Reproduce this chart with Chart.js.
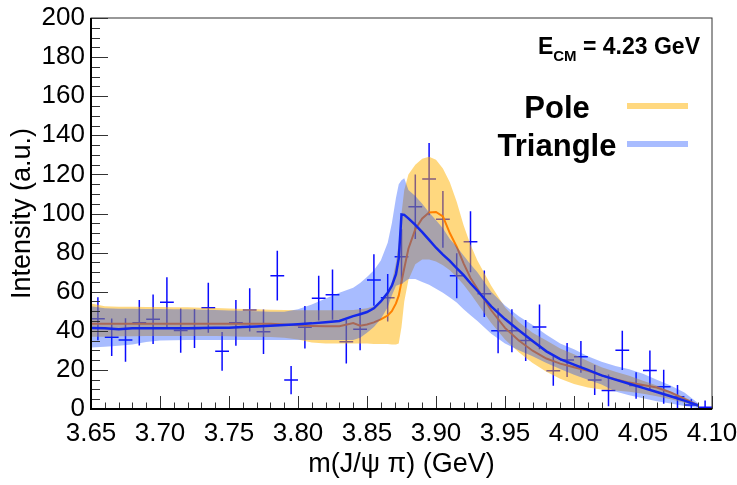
<!DOCTYPE html>
<html lang="en">
<head>
    <meta charset="UTF-8">
    <title>m(J/psi pi) intensity</title>
    <script src="https://cdn.jsdelivr.net/npm/chart.js"></script>
    <style>
        body { margin: 0; background: #fff; }
        #wrap { position: relative; width: 737px; height: 485px; font-family: "Liberation Sans", Arial, sans-serif; }
        .lbl { position: absolute; font-weight: bold; color: #000; white-space: nowrap; }
        .lbl .sub { font-size: 15px; vertical-align: -7px; line-height: 0; }
        .swatch { position: absolute; width: 61px; height: 6px; }
    </style>
</head>
<body>
<div id="wrap">
    <canvas id="chart" width="737" height="485"></canvas>
    <div class="lbl" style="right:37px; top:35px; font-size:23px; line-height:23px;">E<span class="sub">CM</span> = 4.23 GeV</div>
</div>
<script>
    // data histogram (bin centres, contents, errors)
    const binCenters = [3.655, 3.665, 3.675, 3.685, 3.695, 3.705, 3.715, 3.725, 3.735, 3.745,
        3.755, 3.765, 3.775, 3.785, 3.795, 3.805, 3.815, 3.825, 3.835, 3.845,
        3.855, 3.865, 3.875, 3.885, 3.895, 3.905, 3.915, 3.925, 3.935, 3.945,
        3.955, 3.965, 3.975, 3.985, 3.995, 4.005, 4.015, 4.025, 4.035, 4.045,
        4.055, 4.065, 4.075, 4.085, 4.095];
    const counts = [46.2, 36.7, 35.3, 44.1, 45.9, 54.6, 40.1, 41.2, 51.8, 29.5,
        44.1, 50.7, 39.5, 68.2, 14.8, 41.8, 56.7, 58.5, 34.4, 40.8,
        66.0, 56.9, 77.9, 103.5, 117.6, 97.0, 68.2, 85.6, 59.0, 40.0,
        40.0, 35.0, 42.0, 19.6, 25.1, 26.7, 14.8, 9.5, 30.0, 12.0,
        19.7, 11.4, 6.3, 2.0, 0.9];
    const errors = [11.0, 9.6, 11.1, 11.6, 12.7, 12.8, 11.3, 10.0, 12.8, 9.9,
        11.7, 11.1, 11.4, 12.7, 7.2, 10.9, 11.4, 12.8, 11.1, 10.8,
        13.2, 12.1, 14.0, 16.5, 18.5, 14.5, 11.5, 15.6, 11.9, 11.5,
        11.0, 10.5, 11.5, 7.7, 8.7, 8.1, 7.7, 8.1, 10.0, 6.8,
        10.2, 8.7, 6.0, 3.0, 3.4];
    const binWidth = 0.01;

    // model curves
    const massGrid = [3.650, 3.660, 3.670, 3.680, 3.690, 3.700, 3.710, 3.720, 3.730, 3.740,
        3.750, 3.760, 3.770, 3.780, 3.790, 3.800, 3.810, 3.820, 3.830, 3.840,
        3.845, 3.850, 3.855, 3.860, 3.865, 3.868, 3.871, 3.873, 3.875, 3.877,
        3.880, 3.885, 3.890, 3.895, 3.900, 3.905, 3.910, 3.915, 3.920, 3.925,
        3.930, 3.940, 3.950, 3.960, 3.970, 3.980, 3.990, 4.000, 4.010, 4.020,
        4.030, 4.040, 4.050, 4.060, 4.070, 4.080, 4.090];
    const poleCentral = [43.6, 43.6, 43.6, 43.6, 43.6, 43.6, 43.6, 43.6, 43.6, 43.6,
        43.6, 43.6, 43.6, 43.6, 43.2, 42.8, 42.5, 42.3, 42.3, 44.0,
        42.6, 43.2, 44.3, 45.8, 47.8, 50.0, 54.0, 58.0, 65.0, 72.0,
        82.0, 92.0, 97.5, 100.5, 100.8, 98.5, 90.0, 83.0, 74.5, 67.0,
        61.5, 50.5, 41.5, 35.0, 29.8, 25.8, 23.2, 21.4, 19.5, 17.2,
        15.2, 13.5, 12.3, 11.0, 8.5, 5.2, 1.8];
    const poleHigh = [54.0, 52.5, 52.3, 52.3, 52.2, 52.2, 52.0, 52.0, 51.8, 51.6,
        51.4, 51.2, 51.0, 50.8, 50.6, 50.5, 50.5, 50.5, 50.5, 50.7,
        51.0, 51.5, 52.5, 55.0, 60.0, 65.0, 75.0, 85.0, 100.0, 112.0,
        120.0, 125.0, 128.0, 129.0, 127.5, 123.0, 116.0, 106.0, 94.0, 84.0,
        76.0, 63.0, 52.0, 44.5, 39.0, 35.0, 31.0, 28.0, 24.5, 21.3,
        19.0, 17.0, 14.5, 12.0, 9.0, 6.0, 2.5];
    const poleLow = [37.0, 37.0, 37.2, 37.2, 37.3, 37.3, 37.3, 37.3, 37.3, 37.3,
        37.2, 37.0, 37.0, 36.8, 36.5, 35.5, 34.0, 33.5, 33.5, 33.5,
        33.5, 33.5, 33.3, 33.2, 33.2, 33.0, 33.0, 33.5, 42.0, 55.0,
        66.0, 74.0, 76.5, 76.5, 75.5, 73.5, 71.0, 67.5, 63.5, 59.0,
        54.0, 44.0, 35.5, 29.0, 23.5, 19.0, 15.5, 12.8, 11.0, 10.0,
        9.5, 8.8, 7.8, 6.5, 5.0, 3.2, 1.2];
    const triCentral = [41.4, 41.3, 40.8, 41.3, 41.3, 41.3, 41.3, 41.3, 41.4, 41.5,
        41.6, 41.9, 42.2, 42.6, 43.0, 43.4, 43.8, 44.4, 45.0, 47.5,
        48.5, 49.6, 51.5, 55.0, 59.5, 63.0, 69.0, 77.0, 99.5, 99.3,
        97.5, 94.2, 90.5, 86.5, 82.5, 79.0, 75.8, 72.0, 68.5, 64.3,
        60.5, 52.5, 46.0, 40.3, 34.8, 29.5, 25.5, 22.7, 20.0, 17.2,
        15.0, 12.9, 10.8, 8.7, 6.5, 4.3, 1.8];
    const triHigh = [52.5, 51.5, 51.3, 51.3, 51.2, 51.2, 51.0, 51.0, 50.8, 50.6,
        50.4, 50.2, 50.0, 49.8, 49.8, 51.0, 53.5, 56.5, 59.5, 62.0,
        64.5, 67.5, 71.0, 76.0, 85.0, 95.0, 108.0, 115.0, 117.0, 118.0,
        112.0, 109.0, 105.0, 100.5, 96.5, 92.5, 87.0, 83.0, 78.5, 74.0,
        70.0, 60.0, 53.0, 47.5, 43.0, 38.0, 33.5, 30.5, 27.0, 24.2,
        22.0, 20.3, 18.0, 15.0, 12.0, 8.5, 3.0];
    const triLow = [31.5, 31.8, 32.3, 33.0, 34.3, 35.0, 35.2, 35.3, 35.3, 35.3,
        35.3, 35.3, 35.3, 35.3, 35.3, 35.3, 35.3, 35.3, 35.3, 35.3,
        36.5, 39.0, 42.0, 46.0, 52.0, 58.0, 63.0, 63.5, 64.0, 65.0,
        66.5, 66.5, 65.0, 63.5, 61.5, 59.5, 57.0, 54.5, 51.0, 48.0,
        45.0, 38.5, 33.5, 30.0, 27.0, 23.5, 20.5, 17.5, 15.0, 12.5,
        9.0, 7.0, 5.5, 4.0, 2.8, 1.5, 0.5];

    const seriesNames = ['Pole', 'Triangle'];
    const bandColors = ['rgba(255, 178, 0, 0.5)', 'rgba(0, 60, 255, 0.34)'];
    const lineColors = ['rgb(255, 128, 0)', 'rgb(20, 40, 235)'];

    Chart.defaults.font.family = "'Liberation Sans', Arial, sans-serif";
    Chart.defaults.color = '#000';

    const toPoints = (ys) => massGrid.map((m, i) => ({ x: m, y: ys[i] }));

    // error crosses as one broken line
    const crosses = [];
    binCenters.forEach((c, i) => {
        crosses.push({ x: c, y: counts[i] - errors[i] }, { x: c, y: counts[i] + errors[i] }, { x: c, y: null });
        crosses.push({ x: c - binWidth / 2, y: counts[i] }, { x: c + binWidth / 2, y: counts[i] }, { x: c, y: null });
    });

    // ROOT-like frame with inward ticks
    const rootFrame = {
        id: 'rootFrame',
        afterDraw(chart) {
            const { ctx, chartArea: a, scales: { x, y } } = chart;
            ctx.save();
            ctx.strokeStyle = '#333';
            ctx.lineWidth = 1;
            ctx.strokeRect(a.left, a.top, a.right - a.left, a.bottom - a.top);
            ctx.beginPath();
            for (let k = 0; k <= 45; k++) {
                const px = Math.round(x.getPixelForValue(3.65 + k * 0.01)) + 0.5;
                ctx.moveTo(px, a.bottom);
                ctx.lineTo(px, a.bottom - (k % 5 === 0 ? 13 : 6.5));
            }
            for (let k = 0; k <= 40; k++) {
                const py = Math.round(y.getPixelForValue(k * 5)) + 0.5;
                ctx.moveTo(a.left, py);
                ctx.lineTo(a.left + (k % 4 === 0 ? 17 : 9), py);
            }
            ctx.stroke();
            ctx.strokeStyle = '#000';
            ctx.lineWidth = 2;
            ctx.beginPath();
            ctx.moveTo(a.left, a.top);
            ctx.lineTo(a.left, a.bottom);
            ctx.lineTo(a.right, a.bottom);
            ctx.stroke();
            ctx.restore();
        }
    };

    new Chart(document.getElementById('chart').getContext('2d'), {
        type: 'line',
        data: {
            datasets: [
                { label: 'data', data: crosses, borderColor: 'rgb(10, 10, 255)', borderWidth: 1.5, spanGaps: false, order: 7 },
                { label: seriesNames[0] + ' low', data: toPoints(poleLow), borderWidth: 0, order: 6 },
                { label: seriesNames[0] + ' band', data: toPoints(poleHigh), borderWidth: 0, fill: '-1', backgroundColor: bandColors[0], order: 5 },
                { label: seriesNames[0], data: toPoints(poleCentral), borderColor: lineColors[0], borderWidth: 2, order: 4 },
                { label: seriesNames[1] + ' low', data: toPoints(triLow), borderWidth: 0, order: 3 },
                { label: seriesNames[1] + ' band', data: toPoints(triHigh), borderWidth: 0, fill: '-1', backgroundColor: bandColors[1], order: 2 },
                { label: seriesNames[1], data: toPoints(triCentral), borderColor: lineColors[1], borderWidth: 2.5, order: 1 }
            ]
        },
        options: {
            responsive: false,
            animation: false,
            layout: { padding: { top: 18, right: 25, left: 0, bottom: 0 } },
            elements: { point: { radius: 0 }, line: { tension: 0 } },
            plugins: { legend: { display: false }, tooltip: { enabled: false } },
            scales: {
                x: {
                    type: 'linear', min: 3.65, max: 4.10,
                    grid: { display: false, drawTicks: false }, border: { display: false },
                    ticks: { stepSize: 0.05, autoSkip: false, maxRotation: 0, padding: 9, font: { size: 26 },
                        callback: v => v.toFixed(2) },
                    title: { display: true, text: 'm(J/ψ π) (GeV)', font: { size: 27 }, padding: { top: 0, bottom: 4 } },
                    afterFit: s => { s.height = 76; s.paddingLeft = 0; s.paddingRight = 0; }
                },
                y: {
                    min: 0, max: 200,
                    grid: { display: false, drawTicks: false }, border: { display: false },
                    ticks: { stepSize: 20, padding: 6, font: { size: 26 } },
                    title: { display: true, text: 'Intensity (a.u.)', font: { size: 27 }, padding: { top: 6, bottom: 0 } },
                    afterFit: s => { s.width = 91; s.paddingTop = 0; s.paddingBottom = 0; }
                }
            }
        },
        plugins: [rootFrame]
    });

    // legend: centred text + band swatch
    const wrap = document.getElementById('wrap');
    const legendTops = [92, 130];
    seriesNames.forEach((name, i) => {
        const t = document.createElement('div');
        t.className = 'lbl';
        t.style.cssText = `left:477px; width:160px; text-align:center; top:${legendTops[i]}px; font-size:31px; line-height:31px;`;
        t.textContent = name;
        wrap.appendChild(t);
        const s = document.createElement('div');
        s.className = 'swatch';
        s.style.cssText = `left:627px; top:${legendTops[i] + 11}px; background:${bandColors[i]};`;
        wrap.appendChild(s);
    });
</script>
</body>
</html>
